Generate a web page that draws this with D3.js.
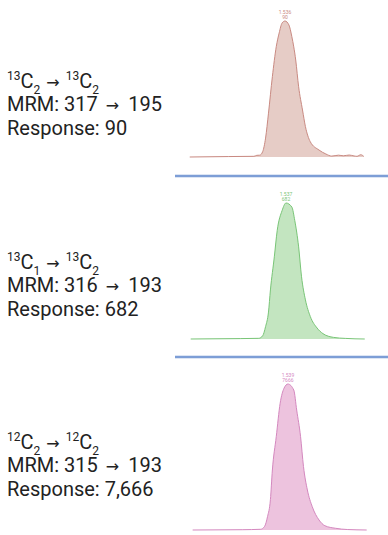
<!DOCTYPE html>
<html>
<head>
<meta charset="utf-8">
<script src="https://cdn.jsdelivr.net/npm/d3@7"></script>
<style>
  html, body { margin: 0; padding: 0; background: #fff; }
  svg { display: block; }
  .label { font-family: Roboto, "Noto Sans", sans-serif; fill: #222; }
  .arrow { font-family: "DejaVu Sans", sans-serif; }
  .peak-tag { font-family: Roboto, sans-serif; }
</style>
</head>
<body>
<svg id="chart" width="388" height="535"></svg>
<script>
// Retention time (min) and detector intensity for each MRM transition
const times13C2 = [1.438, 1.478, 1.504, 1.507, 1.510, 1.513, 1.516, 1.519, 1.523, 1.527, 1.530, 1.533, 1.536,
  1.540, 1.543, 1.547, 1.550, 1.554, 1.557, 1.562, 1.571, 1.578, 1.584, 1.591, 1.596, 1.602, 1.607, 1.610, 1.614, 1.617];
const signal13C2 = [0, 0.3, 0.45, 1.1, 1.2, 3.5, 12.5, 29.0, 53.2, 73.0, 82.1, 88.7, 90,
  87.4, 79.7, 64.2, 46.5, 31.1, 20.1, 10.1, 4.6, 2.0, 0.6, 1.2, 0.8, 1.3, 0.7, 0.45, 1.5, 0.4];

const times13C1 = [1.439, 1.490, 1.509, 1.513, 1.516, 1.519, 1.521, 1.525, 1.528, 1.533, 1.537,
  1.543, 1.546, 1.550, 1.553, 1.557, 1.562, 1.569, 1.575, 1.586, 1.598, 1.618];
const signal13C1 = [0, 2, 3.4, 16, 62, 135, 246, 412, 545, 644, 682,
  662, 595, 462, 312, 196, 113, 55, 27, 8, 3, 0];

const times12C2 = [1.441, 1.492, 1.511, 1.515, 1.518, 1.521, 1.523, 1.527, 1.531, 1.535, 1.539,
  1.545, 1.548, 1.552, 1.555, 1.559, 1.564, 1.571, 1.577, 1.588, 1.600, 1.620];
const signal12C2 = [0, 15, 38, 190, 700, 1600, 3150, 4900, 6655, 7445, 7666,
  7350, 6300, 4900, 3330, 2100, 1225, 525, 225, 90, 25, 0];

// Text for each panel
const precursorIso = ["13", "13", "12"];
const precursorSub = ["2", "1", "2"];
const productIso = ["13", "13", "12"];
const productSub = ["2", "2", "2"];
const mrmPairs = [[317, 195], [316, 193], [315, 193]];
const responses = [90, 682, 7666];
const apexTimes = [1.536, 1.537, 1.539];

const panels = [
  { t: times13C2, v: signal13C2, fill: "#e6ccc6", stroke: "#c98a82", top: 21, base: 157, textY: 88 },
  { t: times13C1, v: signal13C1, fill: "#c3e5c0", stroke: "#79c577", top: 203, base: 339, textY: 269 },
  { t: times12C2, v: signal12C2, fill: "#edc3de", stroke: "#d488bf", top: 384, base: 530, textY: 449 }
];

const svg = d3.select("#chart");
const x = d3.scaleLinear().domain([1.4393, 1.6193]).range([191, 366]);

panels.forEach((p, i) => {
  const peak = d3.max(p.v);
  const y = d3.scaleLinear().domain([0, peak]).range([p.base, p.top]);
  const pts = p.t.map((t, k) => [t, p.v[k]]);

  const area = d3.area().curve(d3.curveMonotoneX)
    .x(d => x(d[0])).y0(y(0)).y1(d => y(d[1]));
  const line = d3.line().curve(d3.curveMonotoneX)
    .x(d => x(d[0])).y(d => y(d[1]));

  svg.append("path").datum(pts).attr("d", area).attr("fill", p.fill);
  svg.append("path").datum(pts).attr("d", line)
    .attr("fill", "none").attr("stroke", p.stroke).attr("stroke-width", 1);

  // apex annotation: retention time and height
  const ax = x(apexTimes[i]);
  const tag = svg.append("text").attr("class", "peak-tag")
    .attr("text-anchor", "middle").attr("font-size", 5).attr("fill", p.stroke);
  tag.append("tspan").attr("x", ax).attr("y", y(peak) - 7).text(apexTimes[i].toFixed(3));
  tag.append("tspan").attr("x", ax).attr("y", y(peak) - 2).text(responses[i]);

  // transition labels
  const t1 = svg.append("text").attr("class", "label").attr("x", 7).attr("y", p.textY).attr("font-size", 20);
  t1.append("tspan").attr("font-size", 12).attr("dy", -8).text(precursorIso[i]);
  t1.append("tspan").attr("dy", 8).text("C");
  t1.append("tspan").attr("font-size", 12).attr("dy", 6).text(precursorSub[i]);
  t1.append("tspan").attr("class", "arrow").attr("dy", -6).attr("dx", 6).attr("font-size", 16).text("\u2192");
  t1.append("tspan").attr("font-size", 12).attr("dy", -8).attr("dx", 6).text(productIso[i]);
  t1.append("tspan").attr("dy", 8).text("C");
  t1.append("tspan").attr("font-size", 12).attr("dy", 6).text(productSub[i]);

  const t2 = svg.append("text").attr("class", "label").attr("x", 7).attr("y", p.textY + 23).attr("font-size", 20);
  t2.append("tspan").text("MRM: " + mrmPairs[i][0]);
  t2.append("tspan").attr("class", "arrow").attr("dx", 8).attr("font-size", 16).text("\u2192");
  t2.append("tspan").attr("dx", 9).text(mrmPairs[i][1]);

  svg.append("text").attr("class", "label").attr("x", 7).attr("y", p.textY + 47).attr("font-size", 20)
    .text("Response: " + d3.format(",")(responses[i]));
});

// panel separators
[176, 357].forEach(sy => {
  svg.append("line").attr("x1", 175).attr("x2", 388).attr("y1", sy).attr("y2", sy)
    .attr("stroke", "#b9cbea").attr("stroke-width", 3);
  svg.append("line").attr("x1", 175).attr("x2", 388).attr("y1", sy).attr("y2", sy)
    .attr("stroke", "#6a8fcf").attr("stroke-width", 1.5);
});
</script>
</body>
</html>
